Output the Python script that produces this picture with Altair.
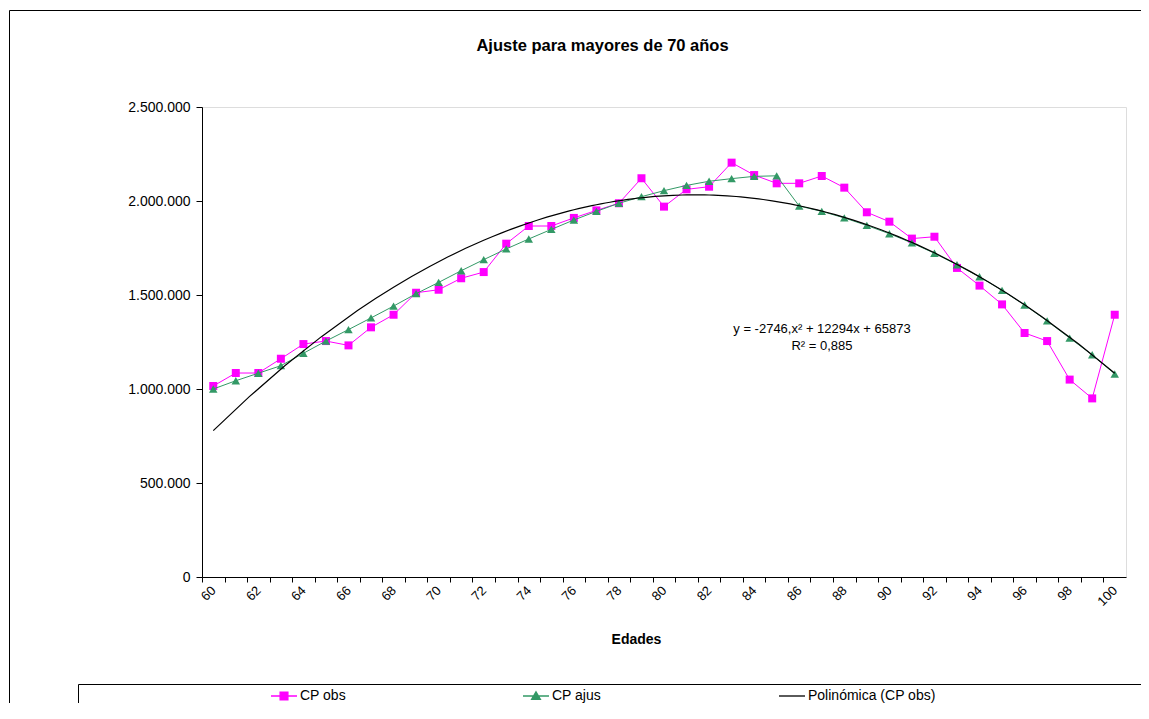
import altair as alt
import pandas as pd

FONT = "Liberation Sans"

# ---- data ----
ages = list(range(60, 101))
cp_obs = [1016000, 1085000, 1085000, 1161000, 1239000, 1255000, 1232000, 1328000, 1395000, 1512000,
          1528000, 1589000, 1622000, 1773000, 1867000, 1867000, 1910000, 1950000, 1988000, 2121000,
          1970000, 2062000, 2076000, 2204000, 2138000, 2094000, 2094000, 2133000, 2071000, 1940000,
          1890000, 1800000, 1810000, 1644000, 1550000, 1450000, 1298000, 1255000, 1050000, 950000,
          1395000]
cp_ajus = [1000000, 1044000, 1084000, 1124000, 1190000, 1255000, 1316000, 1378000, 1441000, 1507000,
           1567000, 1629000, 1688000, 1745000, 1798000, 1849000, 1899000, 1945000, 1988000, 2023000,
           2055000, 2083000, 2105000, 2119000, 2131000, 2134000, 1973000, 1945000, 1910000, 1870000,
           1826000, 1777000, 1722000, 1661000, 1597000, 1525000, 1447000, 1362000, 1271000, 1182000,
           1080000]
y_ticks = [0, 500000, 1000000, 1500000, 2000000, 2500000]
series_names = ["CP obs", "CP ajus", "Polinómica (CP obs)"]
series_colors = ["#FF00FF", "#339966", "#000000"]
legend_shapes = [
    "M-1,0H1M-0.3,-0.3H0.3V0.3H-0.3Z",
    "M-1,0H1M0,-0.32L0.34,0.26H-0.34Z",
    "M-1,0H1",
]
eq_lines = ["y = -2746,x² + 12294x + 65873", "R² = 0,885"]
title_text = "Ajuste para mayores de 70 años"
x_title = "Edades"

obs_df = pd.DataFrame({"Edad": ages, "Valor": cp_obs})
ajus_df = pd.DataFrame({"Edad": ages, "Valor": cp_ajus})
legend_df = pd.DataFrame({"Serie": series_names})
one_row = pd.DataFrame({"k": [0]})

W, H = 924, 470
step = W / 41.0

x_axis = alt.Axis(
    values=ages, tickOffset=-step / 2, labelOffset=step / 2,
    labelExpr="datum.value % 2 == 0 ? datum.value : ''",
    labelAngle=-45, labelAlign="right", labelBaseline="middle",
    labelFont=FONT, labelFontSize=13, labelColor="black", labelPadding=6,
    labelOverlap=False, labelFlush=False, labelBound=False,
    tickSize=5, tickColor="black", domainColor="black", grid=False,
    title=x_title, titleFont=FONT, titleFontSize=14, titleFontWeight="bold",
    titleColor="black", titleX=434, titleY=62, titleBaseline="middle", titleAlign="center",
)
y_axis = alt.Axis(
    values=y_ticks,
    labelExpr="replace(format(datum.value, ','), regexp(',', 'g'), '.')",
    labelFont=FONT, labelFontSize=14, labelColor="black", labelPadding=6,
    labelFlush=False, labelOverlap=False,
    tickSize=6, tickColor="black", domainColor="black", grid=False, title=None,
)
x_enc = alt.X("Edad:Q", scale=alt.Scale(domain=[59.5, 100.5], nice=False, zero=False), axis=x_axis)
y_enc = alt.Y("Valor:Q", scale=alt.Scale(domain=[0, 2500000], nice=False), axis=y_axis)

obs_line = alt.Chart(obs_df).mark_line(color=series_colors[0], strokeWidth=1).encode(x=x_enc, y=y_enc)
obs_pts = alt.Chart(obs_df).mark_point(shape="square", filled=True, size=64, opacity=1,
                                       color=series_colors[0]).encode(x=x_enc, y=y_enc)
ajus_line = alt.Chart(ajus_df).mark_line(color=series_colors[1], strokeWidth=1).encode(x=x_enc, y=y_enc)
ajus_pts = alt.Chart(ajus_df).mark_point(shape="triangle-up", filled=True, size=72, opacity=1,
                                         color=series_colors[1]).encode(x=x_enc, y=y_enc)
trend = (alt.Chart(obs_df)
         .transform_regression("Edad", "Valor", method="poly", order=2)
         .mark_line(color="black", strokeWidth=1.2)
         .encode(x=x_enc, y=y_enc))

eq_text = alt.Chart(one_row).mark_text(
    text=eq_lines, font=FONT, fontSize=13, color="black", align="center",
    baseline="alphabetic", lineHeight=17,
).encode(x=alt.value(620), y=alt.value(226))

title_mark = alt.Chart(one_row).mark_text(
    text=title_text, font=FONT, fontSize=16.5, fontWeight="bold", color="black",
    align="center", baseline="alphabetic",
).encode(x=alt.value(400.5), y=alt.value(-56))

# chart-area frame (top and left edges; the rest lies outside the picture)
frame_top = alt.Chart(one_row).mark_rule(color="black", strokeWidth=1).encode(
    x=alt.value(-192.5), x2=alt.value(1100), y=alt.value(-96.5))
frame_left = alt.Chart(one_row).mark_rule(color="black", strokeWidth=1).encode(
    x=alt.value(-192.5), y=alt.value(-96.5), y2=alt.value(700))
# legend frame
leg_top = alt.Chart(one_row).mark_rule(color="black", strokeWidth=1).encode(
    x=alt.value(-123.5), x2=alt.value(1100), y=alt.value(577.5))
leg_left = alt.Chart(one_row).mark_rule(color="black", strokeWidth=1).encode(
    x=alt.value(-123.5), y=alt.value(577.5), y2=alt.value(700))

leg = alt.Legend(title=None, orient="none", legendX=68, legendY=575, direction="horizontal",
                 columns=3, columnPadding=174, gridAlign="each", symbolSize=676,
                 symbolStrokeWidth=1.3, labelFont=FONT, labelFontSize=14, labelColor="black",
                 labelOffset=2, padding=0)
legend_layer = (alt.Chart(legend_df)
                .transform_filter("false")
                .mark_point(filled=True, opacity=1)
                .encode(
                    fill=alt.Fill("Serie:N", scale=alt.Scale(domain=series_names, range=series_colors), legend=leg),
                    stroke=alt.Stroke("Serie:N", scale=alt.Scale(domain=series_names, range=series_colors), legend=leg),
                    shape=alt.Shape("Serie:N", scale=alt.Scale(domain=series_names, range=legend_shapes), legend=leg),
                ))

chart = (alt.layer(obs_line, obs_pts, ajus_line, ajus_pts, trend, eq_text, title_mark,
                   frame_top, frame_left, leg_top, leg_left, legend_layer)
         .properties(
             width=W, height=H,
             autosize=alt.AutoSizeParams(type="none"),
             padding={"left": 194, "top": 99, "right": 15, "bottom": 126},
         )
         .configure_view(stroke="#808080", strokeWidth=1)
         .configure(background="white"))

chart.save("out.html", embed_options={"renderer": "svg", "actions": False})
